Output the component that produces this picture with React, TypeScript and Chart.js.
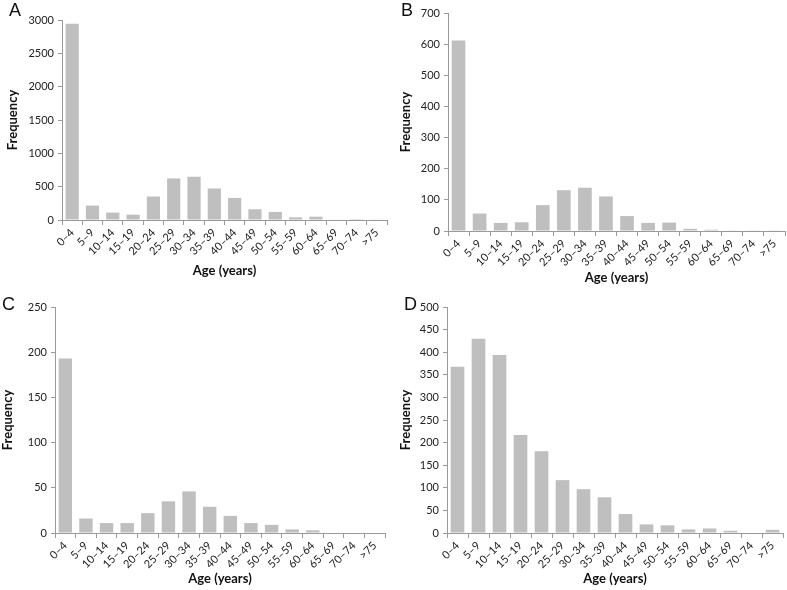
import React, { useEffect, useRef } from "react";
import { Chart, registerables } from "chart.js";

Chart.register(...registerables);

const categories = ["0–4", "5–9", "10–14", "15–19", "20–24", "25–29", "30–34", "35–39", "40–44", "45–49", "50–54", "55–59", "60–64", "65–69", "70–74", ">75"];

const valuesA = [2945, 216, 111, 80, 352, 624, 649, 473, 332, 161, 121, 40, 50, 9, 2, 5];
const valuesB = [612, 56, 26, 28, 83, 131, 139, 111, 48, 26, 27, 7, 4, 1, 1, 1];
const valuesC = [193, 16, 11, 11, 22, 35, 46, 29, 19, 11, 9, 4, 3, 0, 0, 0];
const valuesD = [368, 430, 394, 217, 181, 117, 97, 79, 42, 19, 17, 8, 10, 5, 0, 7];

const panelLetters = ["A", "B", "C", "D"];
const yMaxes = [3000, 700, 250, 500];
const ySteps = [500, 100, 50, 50];

const FONT = "Lato, 'Open Sans', sans-serif";

type Panel = {
  left: number; top: number; width: number; height: number;
  yWidth: number; xHeight: number; padTop: number; padRight: number;
  yTitlePad: number; xTitlePad: number;
  letterX: number; letterY: number;
};

const panels: Panel[] = [
  { left: 0, top: 0, width: 393, height: 290, yWidth: 62, xHeight: 70, padTop: 20, padRight: 6, yTitlePad: 5, xTitlePad: 11, letterX: 9, letterY: 0 },
  { left: 393, top: 0, width: 394, height: 290, yWidth: 55, xHeight: 59, padTop: 13, padRight: 2, yTitlePad: 5, xTitlePad: 4, letterX: 401, letterY: 0 },
  { left: 0, top: 290, width: 393, height: 300, yWidth: 55, xHeight: 57, padTop: 17, padRight: 8, yTitlePad: 0, xTitlePad: 3, letterX: 2, letterY: 294 },
  { left: 393, top: 290, width: 394, height: 300, yWidth: 54, xHeight: 57, padTop: 17, padRight: 4, yTitlePad: 5, xTitlePad: 3, letterX: 404, letterY: 294 },
];

const seriesList = [valuesA, valuesB, valuesC, valuesD];

function PanelChart({ idx }: { idx: number }) {
  const ref = useRef<HTMLCanvasElement | null>(null);
  const p = panels[idx];
  useEffect(() => {
    if (!ref.current) return;
    const chart = new Chart(ref.current, {
      type: "bar",
      data: {
        labels: categories,
        datasets: [{
          data: seriesList[idx],
          backgroundColor: "#bfbfbf",
          borderWidth: 0,
          categoryPercentage: 1,
          barPercentage: 0.65,
        }],
      },
      options: {
        responsive: false,
        animation: false,
        layout: { padding: { top: p.padTop, right: p.padRight, left: 0, bottom: 0 } },
        plugins: { legend: { display: false }, tooltip: { enabled: false } },
        scales: {
          x: {
            grid: { display: true, drawOnChartArea: false, drawTicks: true, tickLength: 5, color: "#9a9a9a", offset: true },
            border: { color: "#9a9a9a" },
            ticks: { minRotation: 45, maxRotation: 45, autoSkip: false, color: "#222", font: { family: FONT, size: 11 }, padding: 1 },
            title: { display: true, text: "Age (years)", color: "#111", font: { family: FONT, size: 13, weight: "bold" }, padding: { top: 0, bottom: p.xTitlePad } },
            afterFit: (s: any) => { s.height = p.xHeight; },
          },
          y: {
            min: 0,
            max: yMaxes[idx],
            grid: { display: true, drawOnChartArea: false, drawTicks: true, tickLength: 4, color: "#9a9a9a" },
            border: { color: "#9a9a9a" },
            ticks: { stepSize: ySteps[idx], color: "#222", font: { family: FONT, size: 11 }, padding: 4, callback: (v: any) => String(v) },
            title: { display: true, text: "Frequency", color: "#111", font: { family: FONT, size: 13, weight: "bold" }, padding: { top: p.yTitlePad, bottom: 0 } },
            afterFit: (s: any) => { s.width = p.yWidth; },
          },
        },
      },
    });
    return () => chart.destroy();
  }, [idx]);
  return (
    <>
      <canvas
        ref={ref}
        width={p.width}
        height={p.height}
        style={{ position: "absolute", left: p.left, top: p.top, width: p.width, height: p.height }}
      />
      <div style={{ position: "absolute", left: p.letterX, top: p.letterY, fontFamily: "'Liberation Sans', Arial, sans-serif", fontSize: 18, lineHeight: "20px", color: "#111" }}>
        {panelLetters[idx]}
      </div>
    </>
  );
}

export default function App() {
  return (
    <div style={{ position: "absolute", left: 0, top: 0, width: 787, height: 590, background: "#fff", overflow: "hidden" }}>
      {[0, 1, 2, 3].map((i) => <PanelChart key={i} idx={i} />)}
    </div>
  );
}
